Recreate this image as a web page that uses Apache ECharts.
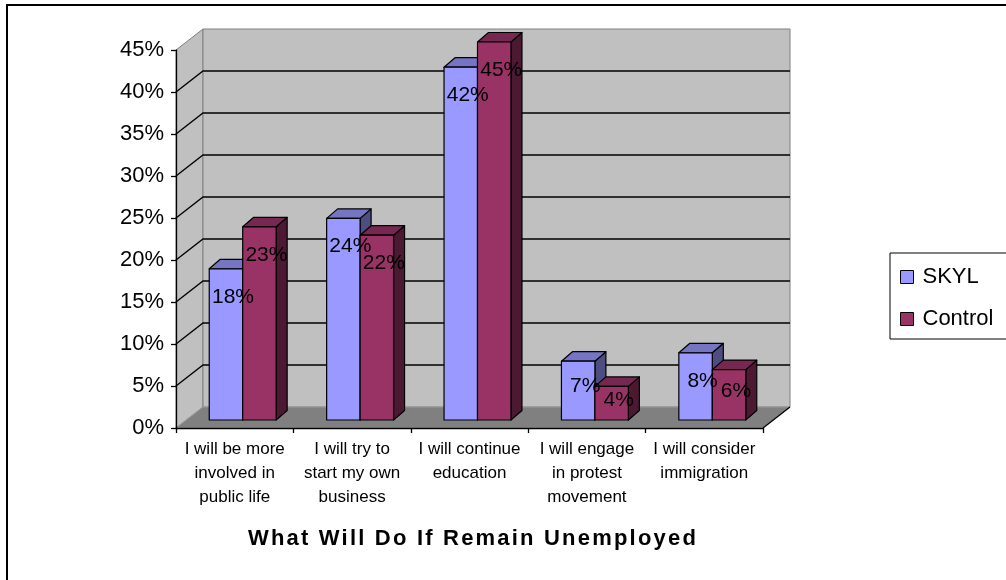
<!DOCTYPE html>
<html>
<head>
<meta charset="utf-8">
<script src="https://cdn.jsdelivr.net/npm/echarts@6/dist/echarts.min.js"></script>
<style>
  html, body { margin: 0; padding: 0; background: #fff; }
  #chart { width: 1006px; height: 580px; }
</style>
</head>
<body>
<div id="chart"></div>
<script>
// Survey answers, percent of respondents
const categories = [
  'I will be more\ninvolved in\npublic life',
  'I will try to\nstart my own\nbusiness',
  'I will continue\neducation',
  'I will engage\nin protest\nmovement',
  'I will consider\nimmigration'
];
const seriesNames = ['SKYL', 'Control'];
const skyl = [18, 24, 42, 7, 8];
const control = [23, 22, 45, 4, 6];
const yTicks = [0, 5, 10, 15, 20, 25, 30, 35, 40, 45];

// 3D look: depth of the plot box, offset of the bar fronts, depth of a bar
const BOX_DEPTH = [27, -21];
const BAR_FRONT = [8, -8];
const BAR_DEPTH = [11, -9.5];
const BAR_FRAC = 0.285;

const FACE = {
  SKYL:    { front: '#9999FF', top: '#7575C4', side: '#4D4D80' },
  Control: { front: '#993366', top: '#772850', side: '#4C1933' }
};
const FONT = 'Arial, "Liberation Sans", sans-serif';

// Wide tracking for the bold caption text
const BOLD_TRACKING = '2.2px';
(function () {
  const proto = CanvasRenderingContext2D.prototype;
  if (!('letterSpacing' in proto)) return;
  const nativeFillText = proto.fillText;
  proto.fillText = function () {
    if (/bold/.test(this.font)) {
      const prev = this.letterSpacing;
      this.letterSpacing = BOLD_TRACKING;
      nativeFillText.apply(this, arguments);
      this.letterSpacing = prev;
    } else {
      nativeFillText.apply(this, arguments);
    }
  };
})();

function barRenderer(name, leftOfCenter) {
  const col = FACE[name];
  return function (params, api) {
    const cat = api.value(0);
    const v = api.value(1);
    const band = api.size([1, 0])[0];
    const w = band * BAR_FRAC;
    const pTop = api.coord([cat, v]);
    const pBot = api.coord([cat, 0]);
    const x = pTop[0] + BAR_FRONT[0] - (leftOfCenter ? w : 0);
    const yT = pTop[1] + BAR_FRONT[1];
    const yB = pBot[1] + BAR_FRONT[1];
    const dx = BAR_DEPTH[0], dy = BAR_DEPTH[1];
    const h = yB - yT;
    const edge = { stroke: '#000', lineWidth: 1.2, lineJoin: 'round' };
    return {
      type: 'group',
      children: [
        { type: 'polygon', z2: 1,
          shape: { points: [[x + w, yT], [x + w + dx, yT + dy], [x + w + dx, yB + dy], [x + w, yB]] },
          style: Object.assign({ fill: col.side }, edge) },
        { type: 'polygon', z2: 1,
          shape: { points: [[x, yT], [x + w, yT], [x + w + dx, yT + dy], [x + dx, yT + dy]] },
          style: Object.assign({ fill: col.top }, edge) },
        { type: 'rect', z2: 2,
          shape: { x: x, y: yT, width: w, height: h },
          style: Object.assign({ fill: col.front }, edge) },
        { type: 'text', z2: 100,
          x: x + w / 2 + 7,
          y: yT + Math.min(28, 0.42 * h),
          style: { text: v + '%', fill: '#000', font: '21px ' + FONT,
                   align: 'center', verticalAlign: 'middle' } }
      ]
    };
  };
}

// Side wall, back wall and floor of the plot box
function wallsRenderer(params, api) {
  const cs = params.coordSys;
  const x0 = cs.x, x1 = cs.x + cs.width;
  const yTop = api.coord([0, api.value(1)])[1];
  const yBot = api.coord([0, 0])[1];
  const dx = BOX_DEPTH[0], dy = BOX_DEPTH[1];
  const rim = { stroke: '#808080', lineWidth: 1 };
  return {
    type: 'group',
    children: [
      { type: 'polygon', shape: { points: [[x0, yTop], [x0 + dx, yTop + dy], [x0 + dx, yBot + dy], [x0, yBot]] },
        style: Object.assign({ fill: '#C0C0C0' }, rim) },
      { type: 'rect', shape: { x: x0 + dx, y: yTop + dy, width: x1 - x0, height: yBot - yTop },
        style: Object.assign({ fill: '#C0C0C0' }, rim) },
      { type: 'polygon', shape: { points: [[x0, yBot], [x0 + dx, yBot + dy], [x1 + dx, yBot + dy], [x1, yBot]] },
        style: { fill: '#808080', stroke: '#9A9A9A', lineWidth: 1 } },
      { type: 'line', shape: { x1: x1, y1: yBot, x2: x1 + dx, y2: yBot + dy },
        style: { stroke: '#000', lineWidth: 1.2 } }
    ]
  };
}

// Gridlines across the side wall and the back wall
function gridRenderer(params, api) {
  const v = api.value(1);
  if (v <= yTicks[0] || v >= yTicks[yTicks.length - 1]) return { type: 'group', children: [] };
  const cs = params.coordSys;
  const x0 = cs.x, x1 = cs.x + cs.width;
  const y = api.coord([0, v])[1];
  const dx = BOX_DEPTH[0], dy = BOX_DEPTH[1];
  return {
    type: 'group',
    children: [
      { type: 'polyline', shape: { points: [[x0, y], [x0 + dx, y + dy], [x1 + dx, y + dy]] },
        style: { stroke: '#000', lineWidth: 1.3, fill: null } }
    ]
  };
}

const chart = echarts.init(document.getElementById('chart'), null, { renderer: 'canvas' });
chart.setOption({
  animation: false,
  backgroundColor: '#fff',
  title: {
    text: 'What Will Do If Remain Unemployed',
    left: 468, top: 523, textAlign: 'center',
    textStyle: { fontFamily: FONT, fontWeight: 'bold', fontSize: 22, color: '#000' }
  },
  legend: {
    orient: 'vertical',
    left: 890, top: 253,
    padding: [13, 30, 9, 10],
    itemGap: 20,
    itemWidth: 13, itemHeight: 13,
    icon: 'rect',
    borderColor: '#000', borderWidth: 1,
    itemStyle: { borderColor: '#000', borderWidth: 1 },
    textStyle: { fontFamily: FONT, fontSize: 22, color: '#000', padding: [0, 0, 0, 4] },
    data: seriesNames
  },
  grid: { left: 176, right: 243, top: 50, bottom: 152 },
  xAxis: {
    type: 'category',
    data: categories,
    z: 5,
    axisLine: { lineStyle: { color: '#000', width: 1.3 } },
    axisTick: { show: true, length: 5, lineStyle: { color: '#000', width: 1.3 } },
    axisLabel: { interval: 0, margin: 9, color: '#000', fontFamily: FONT, fontSize: 17, lineHeight: 24 },
    splitLine: { show: false }
  },
  yAxis: {
    type: 'value',
    min: yTicks[0], max: yTicks[yTicks.length - 1], interval: 5,
    z: 5,
    axisLine: { show: true, lineStyle: { color: '#000', width: 1.3 } },
    axisTick: { show: true, length: 5, lineStyle: { color: '#000', width: 1.3 } },
    axisLabel: { margin: 12, color: '#000', fontFamily: FONT, fontSize: 22, formatter: '{value}%' },
    splitLine: { show: false }
  },
  graphic: [
    { type: 'rect', z: -1, silent: true,
      shape: { x: 7, y: 5, width: 1100, height: 700 },
      style: { fill: null, stroke: '#000', lineWidth: 2 } }
  ],
  series: [
    { type: 'custom', name: 'walls', z: 1, silent: true,
      renderItem: wallsRenderer, data: [[0, yTicks[yTicks.length - 1]]], encode: { x: 0, y: 1 } },
    { type: 'custom', name: 'gridlines', z: 1.5, silent: true,
      renderItem: gridRenderer, data: yTicks.map(v => [0, v]), encode: { x: 0, y: 1 } },
    { type: 'custom', name: seriesNames[0], z: 2, itemStyle: { color: FACE.SKYL.front },
      renderItem: barRenderer('SKYL', true), data: skyl.map((v, i) => [i, v]), encode: { x: 0, y: 1 } },
    { type: 'custom', name: seriesNames[1], z: 2, itemStyle: { color: FACE.Control.front },
      renderItem: barRenderer('Control', false), data: control.map((v, i) => [i, v]), encode: { x: 0, y: 1 } }
  ]
});
</script>
</body>
</html>
